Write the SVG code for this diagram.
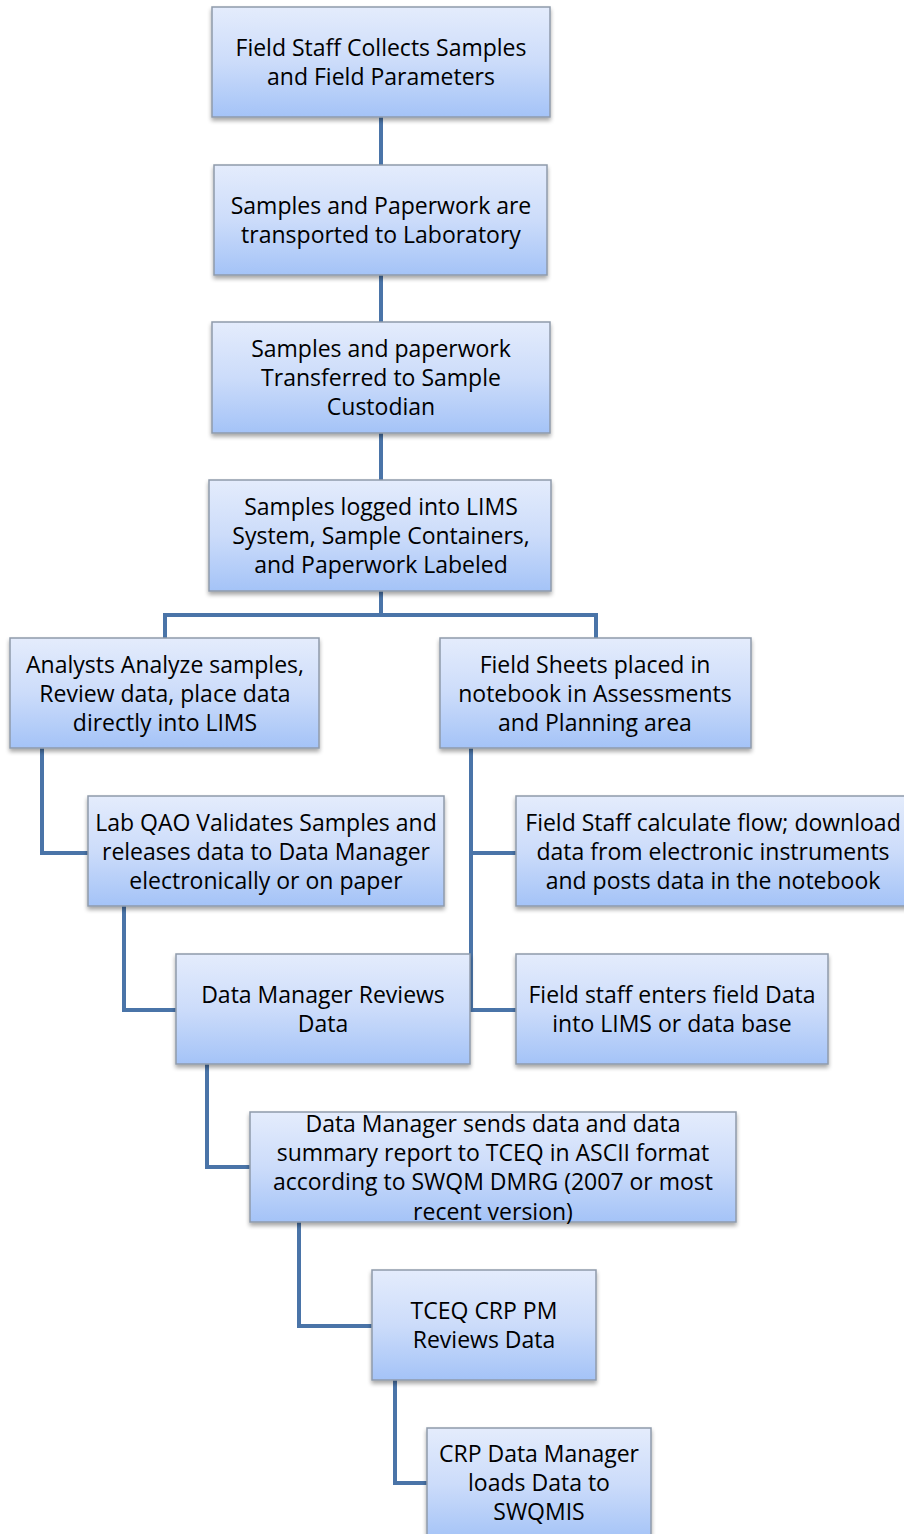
<svg xmlns="http://www.w3.org/2000/svg" width="904" height="1534" viewBox="0 0 904 1534">
<defs>
<linearGradient id="g" x1="0" y1="0" x2="0" y2="1">
<stop offset="0" stop-color="#e4ecfc"/>
<stop offset="0.5" stop-color="#ccdcfa"/>
<stop offset="1" stop-color="#a4c3f7"/>
</linearGradient>
<filter id="sh" x="-5%" y="-10%" width="110%" height="130%">
<feGaussianBlur in="SourceAlpha" stdDeviation="2"/>
<feOffset dx="0" dy="3" result="b"/>
<feComponentTransfer><feFuncA type="linear" slope="0.35"/></feComponentTransfer>
<feMerge><feMergeNode/><feMergeNode in="SourceGraphic"/></feMerge>
</filter>
</defs>
<style>
.box{fill:url(#g);stroke:#8f9aab;stroke-width:1.5;filter:url(#sh)}
.t{font-family:"Open Sans","Liberation Sans",sans-serif;font-size:23px;fill:#000;text-anchor:middle}
.c{fill:none;stroke:#4a74a8;stroke-width:4}
</style>
<rect width="904" height="1534" fill="#fff"/>
<g id="connectors">
<path class="c" d="M381 117V165"/>
<path class="c" d="M381 275V322"/>
<path class="c" d="M381 433V480"/>
<path class="c" d="M381 591V615M165 638V615H596V638"/>
<path class="c" d="M42 748V853H88"/>
<path class="c" d="M471 748V1010H516M471 853H516"/>
<path class="c" d="M124 906V1010H176"/>
<path class="c" d="M207 1064V1167H250"/>
<path class="c" d="M299 1222V1326H372"/>
<path class="c" d="M395 1380V1483H427"/>
</g>
<g id="n1"><rect class="box" x="212" y="7" width="338" height="110"/>
<text class="t"><tspan x="381" y="56">Field Staff Collects Samples</tspan><tspan x="381" y="85">and Field Parameters</tspan></text></g>
<g id="n2"><rect class="box" x="214" y="165" width="333" height="110"/>
<text class="t"><tspan x="381" y="214">Samples and Paperwork are</tspan><tspan x="381" y="243">transported to Laboratory</tspan></text></g>
<g id="n3"><rect class="box" x="212" y="322" width="338" height="111"/>
<text class="t"><tspan x="381" y="357">Samples and paperwork</tspan><tspan x="381" y="386">Transferred to Sample</tspan><tspan x="381" y="415">Custodian</tspan></text></g>
<g id="n4"><rect class="box" x="209" y="480" width="342" height="111"/>
<text class="t"><tspan x="381" y="515">Samples logged into LIMS</tspan><tspan x="381" y="544">System, Sample Containers,</tspan><tspan x="381" y="573">and Paperwork Labeled</tspan></text></g>
<g id="n5"><rect class="box" x="10" y="638" width="309" height="110"/>
<text class="t"><tspan x="165" y="673">Analysts Analyze samples,</tspan><tspan x="165" y="702">Review data, place data</tspan><tspan x="165" y="731">directly into LIMS</tspan></text></g>
<g id="n6"><rect class="box" x="440" y="638" width="311" height="110"/>
<text class="t"><tspan x="595" y="673">Field Sheets placed in</tspan><tspan x="595" y="702">notebook in Assessments</tspan><tspan x="595" y="731">and Planning area</tspan></text></g>
<g id="n7"><rect class="box" x="88" y="796" width="356" height="110"/>
<text class="t"><tspan x="266" y="831">Lab QAO Validates Samples and</tspan><tspan x="266" y="860">releases data to Data Manager</tspan><tspan x="266" y="889">electronically or on paper</tspan></text></g>
<g id="n8"><rect class="box" x="516" y="796" width="394" height="110"/>
<text class="t"><tspan x="713" y="831">Field Staff calculate flow; download</tspan><tspan x="713" y="860">data from electronic instruments</tspan><tspan x="713" y="889">and posts data in the notebook</tspan></text></g>
<g id="n9"><rect class="box" x="176" y="954" width="294" height="110"/>
<text class="t"><tspan x="323" y="1003">Data Manager Reviews</tspan><tspan x="323" y="1032">Data</tspan></text></g>
<g id="n10"><rect class="box" x="516" y="954" width="312" height="110"/>
<text class="t"><tspan x="672" y="1003">Field staff enters field Data</tspan><tspan x="672" y="1032">into LIMS or data base</tspan></text></g>
<g id="n11"><rect class="box" x="250" y="1112" width="486" height="110"/>
<text class="t"><tspan x="493" y="1132">Data Manager sends data and data</tspan><tspan x="493" y="1161">summary report to TCEQ in ASCII format</tspan><tspan x="493" y="1190">according to SWQM DMRG (2007 or most</tspan><tspan x="493" y="1220">recent version)</tspan></text></g>
<g id="n12"><rect class="box" x="372" y="1270" width="224" height="110"/>
<text class="t"><tspan x="484" y="1319">TCEQ CRP PM</tspan><tspan x="484" y="1348">Reviews Data</tspan></text></g>
<g id="n13"><rect class="box" x="427" y="1428" width="224" height="112"/>
<text class="t"><tspan x="539" y="1462">CRP Data Manager</tspan><tspan x="539" y="1491">loads Data to</tspan><tspan x="539" y="1520">SWQMIS</tspan></text></g>
</svg>
